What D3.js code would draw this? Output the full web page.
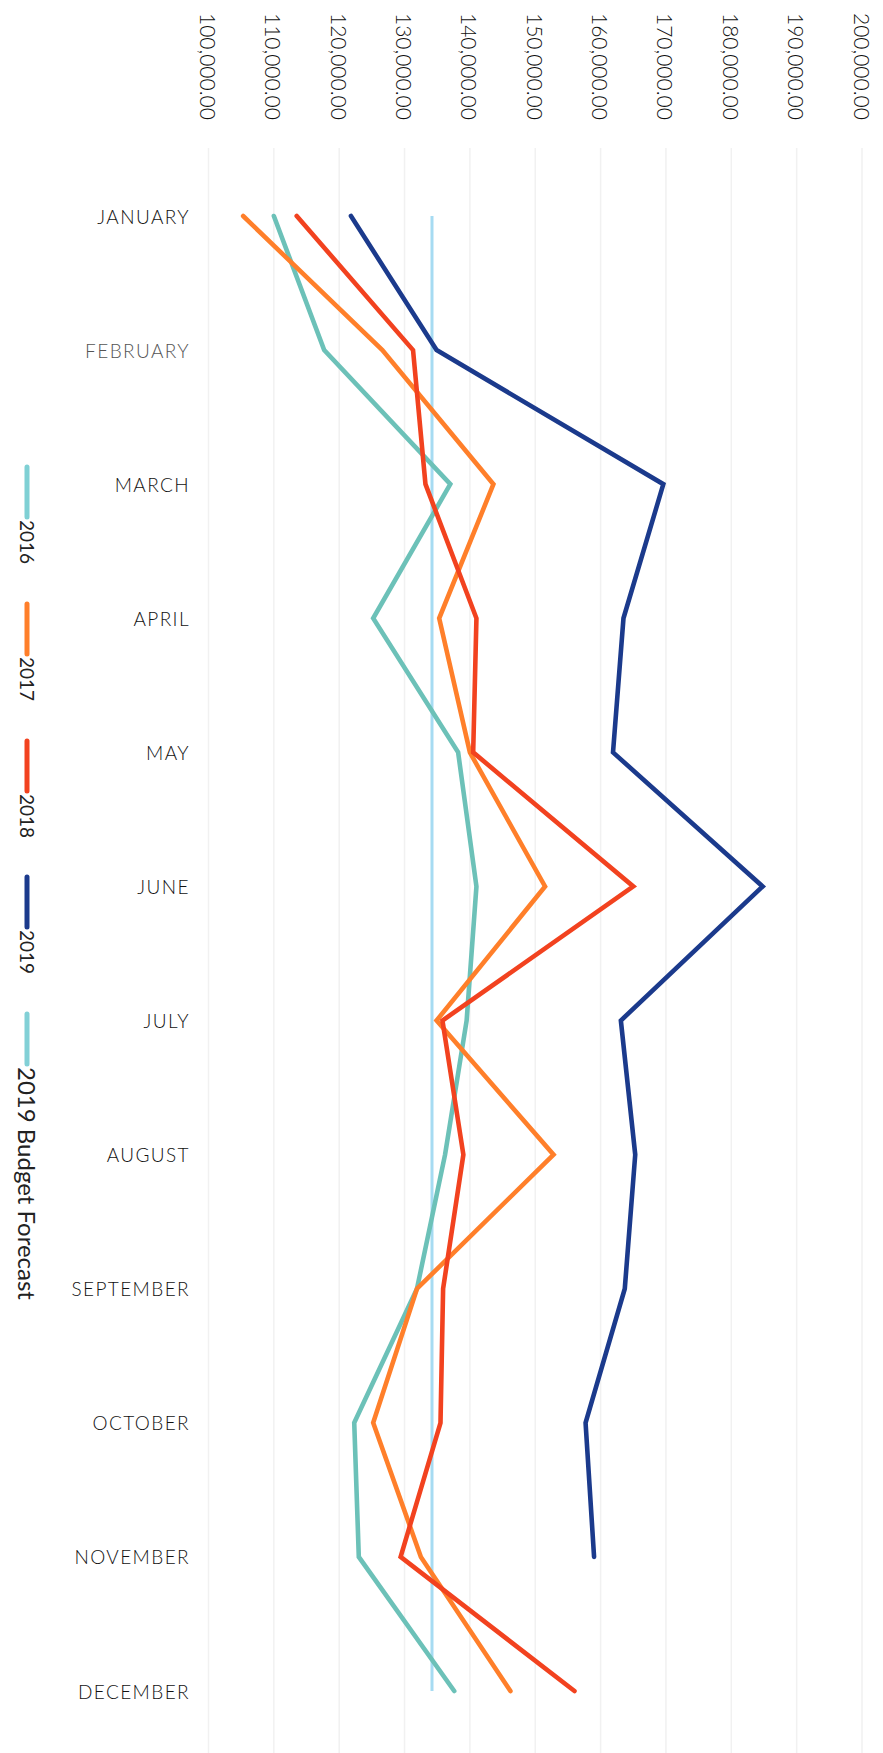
<!DOCTYPE html>
<html>
<head>
<meta charset="utf-8">
<script src="https://cdn.jsdelivr.net/npm/d3@7"></script>
<style>
  html, body { margin: 0; padding: 0; background: #ffffff; }
  svg { display: block; }
</style>
</head>
<body>
<svg id="chart" width="883" height="1753"></svg>
<script>
const months = ["JANUARY","FEBRUARY","MARCH","APRIL","MAY","JUNE","JULY","AUGUST","SEPTEMBER","OCTOBER","NOVEMBER","DECEMBER"];
const tickValues = [100000,110000,120000,130000,140000,150000,160000,170000,180000,190000,200000];
const s2016 = [110000,117700,137000,125200,138200,141000,139500,136200,131900,122300,123000,137600];
const s2017 = [105300,126600,143600,135300,140000,151500,134900,152800,131900,125200,132500,146200];
const s2018 = [113500,131300,133200,141000,140500,165000,135800,139000,135900,135500,129400,156000];
const s2019 = [121800,134900,169600,163500,161900,184800,163100,165300,163700,157700,159000,null];
const budget2019 = [134200,134200,134200,134200,134200,134200,134200,134200,134200,134200,134200,134200];
const seriesNames = ["2016","2017","2018","2019","2019 Budget Forecast"];
const seriesColors = ["#6cc1b8","#ff7f2a","#f2421f","#1b3a8c","#a6dbf2"];
const legendSwatchColors = ["#7fd0d4","#ff7f2a","#f2421f","#1b3a8c","#82d0d6"];

const svg = d3.select("#chart");
const x = d3.scaleLinear().domain([100000, 200000]).range([208.5, 862]);
const y = d3.scalePoint().domain(months).range([216, 1691]);

// gridlines
svg.append("g").selectAll("line").data(tickValues).join("line")
  .attr("x1", d => x(d)).attr("x2", d => x(d))
  .attr("y1", 148).attr("y2", 1753)
  .attr("stroke", "#f1f1f1").attr("stroke-width", 1.5);

// tick labels (rotated, reading top to bottom)
const fmt = d3.format(",.2f");
svg.append("g").selectAll("text").data(tickValues).join("text")
  .attr("transform", d => `translate(${x(d)},13) rotate(90)`)
  .attr("text-anchor", "start")
  .attr("dominant-baseline", "central")
  .attr("font-family", "Lato, 'Liberation Sans', sans-serif")
  .attr("font-weight", 300)
  .attr("font-size", 21)
  .attr("fill", "#111")
  .text(d => fmt(d));

// month labels
svg.append("g").selectAll("text").data(months).join("text")
  .attr("x", 190).attr("y", d => y(d))
  .attr("text-anchor", "end")
  .attr("dominant-baseline", "central")
  .attr("font-family", "Lato, 'Liberation Sans', sans-serif")
  .attr("font-weight", 300)
  .attr("font-size", 19)
  .attr("letter-spacing", 1.4)
  .attr("fill", d => d === "FEBRUARY" ? "#555" : "#111")
  .text(d => d);

// lines
const allSeries = [s2016, s2017, s2018, s2019];
const line = d3.line()
  .defined(d => d != null)
  .x(d => x(d))
  .y((d, i) => y(months[i]));

svg.append("path").datum(budget2019)
  .attr("d", line).attr("fill", "none")
  .attr("stroke", seriesColors[4]).attr("stroke-width", 3);

allSeries.forEach((s, k) => {
  svg.append("path").datum(s)
    .attr("d", line).attr("fill", "none")
    .attr("stroke", seriesColors[k]).attr("stroke-width", 4.6)
    .attr("stroke-linejoin", "miter").attr("stroke-linecap", "round");
});

// legend (vertical, rotated)
const legendStarts = [465, 602, 739, 875, 1012];
const legendFont = [19, 19, 19, 19, 24];
const lg = svg.append("g");
seriesNames.forEach((name, i) => {
  const y0 = legendStarts[i];
  lg.append("line")
    .attr("x1", 27).attr("x2", 27)
    .attr("y1", y0 + 2).attr("y2", y0 + 52)
    .attr("stroke", legendSwatchColors[i]).attr("stroke-width", 5)
    .attr("stroke-linecap", "round");
  lg.append("text")
    .attr("transform", `translate(27,${y0 + 55}) rotate(90)`)
    .attr("text-anchor", "start")
    .attr("dominant-baseline", "central")
    .attr("font-family", "Lato, 'Liberation Sans', sans-serif")
    .attr("font-size", legendFont[i])
    .attr("fill", "#222")
    .text(name);
});
</script>
</body>
</html>
